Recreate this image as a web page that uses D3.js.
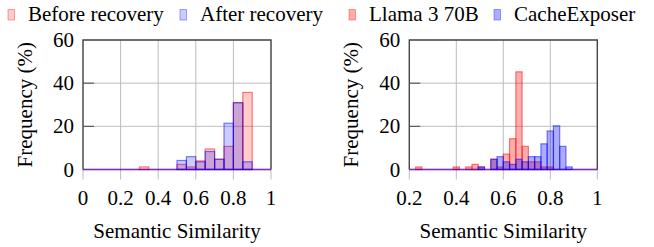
<!DOCTYPE html>
<html>
<head>
<meta charset="utf-8">
<script src="https://cdn.jsdelivr.net/npm/d3@7"></script>
<style>
	body { margin: 0; background: #fff; }
</style>
</head>
<body>
<div id="chart"></div>
<script>
// Data (frequencies in %, one value per bin)
const legendLabels = ["Before recovery", "After recovery", "Llama 3 70B", "CacheExposer"];
const yTicks = [0, 20, 40, 60];
const leftXTicks = [0, 0.2, 0.4, 0.6, 0.8, 1];
const rightXTicks = [0.2, 0.4, 0.6, 0.8, 1];

// left panel: 20 bins over [0, 1]
const leftBefore = [0, 0, 0, 0, 0, 0, 1.19, 0, 0, 0, 2.38, 1.19, 4.0, 9.52, 4.76, 10.71, 30.95, 35.71, 0, 0];
const leftAfter = [0, 0, 0, 0, 0, 0, 0, 0, 0, 0, 4.17, 5.95, 3.57, 8.33, 4.76, 21.43, 30.95, 3.57, 0, 0];

// right panel: 30 bins over [0.2, 1]
const rightLlama = [0, 1.19, 0, 0, 0, 0, 0, 1.19, 0, 1.19, 2.38, 1.19, 0, 4.76, 1.19, 7.14, 14.29, 45.24, 10.71, 3.57, 3.57, 1.19, 1.19, 0, 0, 0, 0, 0, 0, 0];
const rightCache = [0, 0, 0, 0, 0, 0, 0, 0, 0, 0, 0, 1.19, 0, 4.76, 5.95, 3.57, 2.38, 4.76, 3.57, 5.95, 5.95, 11.9, 17.86, 20.24, 10.71, 1.19, 0, 0, 0, 0];

const W = 654, H = 247;
const serif = "Liberation Serif, Tinos, Nimbus Roman, FreeSerif, Noto Serif, DejaVu Serif, serif";
const svg = d3.select("#chart").append("svg")
	.attr("width", W)
	.attr("height", H)
	.style("font-family", serif);

class HistPanel {
	constructor(left, xDomain, xTicks, series) {
		this.top = 40;
		this.bottom = 169.5;
		this.left = left;
		this.right = left + 188;
		this.series = series;
		this.xTicks = xTicks;

		this.x = d3.scaleLinear().domain(xDomain).range([this.left, this.right]);
		this.y = d3.scaleLinear().domain([0, 60]).range([this.bottom, this.top]);
		this.g = svg.append("g");
	}

	draw() {
		this.drawGrid();
		this.drawBars();
		this.drawFrame();
		this.drawLabels();
	}

	drawGrid() {
		this.g.selectAll(".vgrid").data(this.xTicks).enter().append("line")
			.attr("x1", d => this.x(d)).attr("x2", d => this.x(d))
			.attr("y1", this.top).attr("y2", this.bottom + 10)
			.attr("stroke", "#bdbdbd").attr("stroke-width", 1);
		this.g.selectAll(".hgrid").data(yTicks.slice(1, -1)).enter().append("line")
			.attr("x1", this.left).attr("x2", this.right)
			.attr("y1", d => this.y(d)).attr("y2", d => this.y(d))
			.attr("stroke", "#bdbdbd").attr("stroke-width", 1);
	}

	drawBars() {
		let [x0, x1] = this.x.domain();
		for (let s of this.series) {
			let bw = (x1 - x0) / s.values.length;
			let bins = s.values.map((v, i) => ({x: x0 + i * bw, v: v}));
			this.g.append("g").selectAll("rect")
				.data(bins.filter(d => d.v > 0))
				.enter().append("rect")
				.attr("x", d => this.x(d.x))
				.attr("width", d => this.x(d.x + bw) - this.x(d.x))
				.attr("y", d => this.y(d.v))
				.attr("height", d => this.y(0) - this.y(d.v))
				.attr("fill", s.color).attr("fill-opacity", s.fillOpacity)
				.attr("stroke", s.color).attr("stroke-opacity", 0.5)
				.attr("stroke-width", 1.2);
			// zero-height bins leave their outline along the baseline
			this.g.append("line")
				.attr("x1", this.x(x0)).attr("x2", this.x(x1))
				.attr("y1", this.y(0)).attr("y2", this.y(0))
				.attr("stroke", s.color).attr("stroke-opacity", 0.55)
				.attr("stroke-width", 1.6);
		}
	}

	drawFrame() {
		this.g.append("path")
			.attr("d", `M${this.left},${this.bottom}V${this.top}H${this.right}V${this.bottom}`)
			.attr("fill", "none").attr("stroke", "#404040").attr("stroke-width", 1.3);
		this.g.selectAll(".ytick").data(yTicks.slice(1, -1)).enter().append("line")
			.attr("x1", this.left).attr("x2", this.left + 11)
			.attr("y1", d => this.y(d)).attr("y2", d => this.y(d))
			.attr("stroke", "#505050").attr("stroke-width", 1.1);
	}

	drawLabels() {
		this.g.selectAll(".ylab").data(yTicks).enter().append("text")
			.attr("x", this.left - 9)
			.attr("y", d => this.y(d) + 7)
			.attr("text-anchor", "end")
			.attr("font-size", 21)
			.text(d => d);
		this.g.selectAll(".xlab").data(this.xTicks).enter().append("text")
			.attr("x", d => this.x(d))
			.attr("y", 205)
			.attr("text-anchor", "middle")
			.attr("font-size", 21)
			.text(d => d);
		this.g.append("text")
			.attr("x", (this.left + this.right) / 2)
			.attr("y", 238)
			.attr("text-anchor", "middle")
			.attr("font-size", 21)
			.text("Semantic Similarity");
		this.g.append("text")
			.attr("transform", `translate(${this.left - 51},${(this.top + this.bottom) / 2}) rotate(-90)`)
			.attr("text-anchor", "middle")
			.attr("font-size", 21)
			.text("Frequency (%)");
	}
}

new HistPanel(83, [0, 1], leftXTicks, [
	{values: leftBefore, color: "#ff0000", fillOpacity: 0.2},
	{values: leftAfter, color: "#0000ff", fillOpacity: 0.2}
]).draw();

new HistPanel(409.3, [0.2, 1], rightXTicks, [
	{values: rightLlama, color: "#ff0000", fillOpacity: 0.32},
	{values: rightCache, color: "#0000ff", fillOpacity: 0.32}
]).draw();

// Legend
const legendX = [8, 180, 349, 494];
const legendColors = ["#ff0000", "#0000ff", "#ff0000", "#0000ff"];
const legendOpacity = [0.2, 0.2, 0.32, 0.32];
const legend = svg.append("g");
legendLabels.forEach((label, i) => {
	legend.append("rect")
		.attr("x", legendX[i]).attr("y", 9.5)
		.attr("width", 6.5).attr("height", 10.5)
		.attr("fill", legendColors[i]).attr("fill-opacity", legendOpacity[i])
		.attr("stroke", legendColors[i]).attr("stroke-opacity", 0.35)
		.attr("stroke-width", 1);
	legend.append("text")
		.attr("x", legendX[i] + 20).attr("y", 20.5)
		.attr("font-size", 21)
		.text(label);
});
</script>
</body>
</html>
